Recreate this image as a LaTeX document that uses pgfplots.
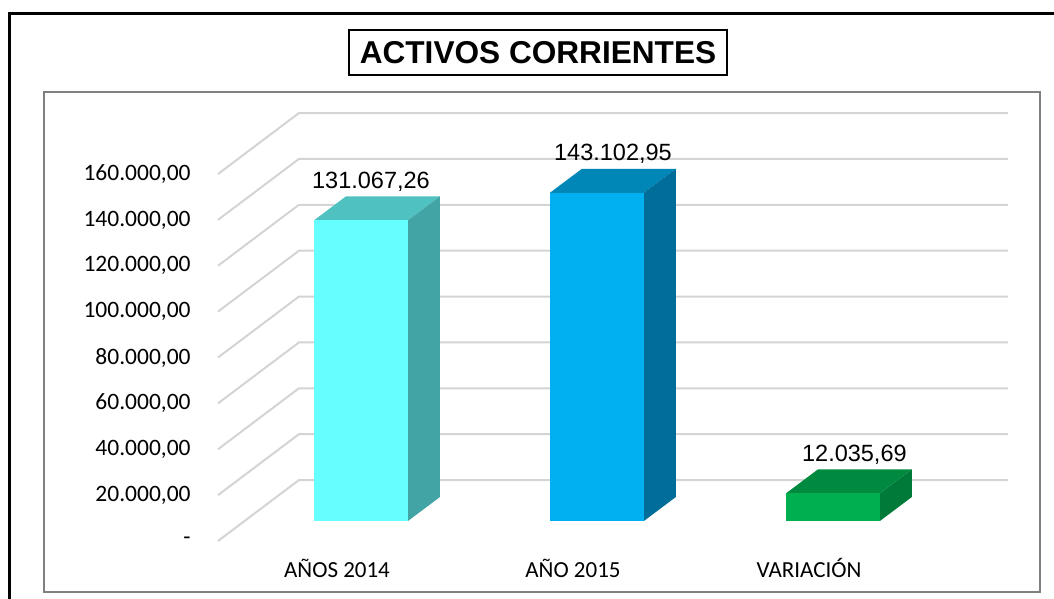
\documentclass[border=0pt]{standalone}
\usepackage{fontspec}
\setmainfont{Carlito}
\newfontfamily\arial{Liberation Sans}
\usepackage{pgfplots}
\pgfplotsset{compat=1.18}
\definecolor{gridc}{HTML}{D4D4D4}
\definecolor{frameg}{HTML}{808080}
\definecolor{fA}{HTML}{66FFFF}
\definecolor{sA}{HTML}{42A4A4}
\definecolor{tA}{HTML}{4FC1C1}
\definecolor{fB}{HTML}{00B0F0}
\definecolor{sB}{HTML}{006E99}
\definecolor{tB}{HTML}{0087B8}
\definecolor{fC}{HTML}{00B050}
\definecolor{sC}{HTML}{007A38}
\definecolor{tC}{HTML}{008A40}
\begin{document}
\begin{tikzpicture}
\useasboundingbox (0,0) rectangle (527pt,-299.5pt);
\clip (0,0) rectangle (527pt,-299.5pt);
% outer frame (cut by picture edge)
\draw[line width=1.5pt,black] (4.5pt,-320pt) -- (4.5pt,-7pt) -- (560pt,-7pt);
% plot area frame
\draw[line width=1.2pt,frameg] (22pt,-46pt) rectangle (520pt,-296pt);
% title
\node[draw, line width=1pt, minimum width=189pt, minimum height=22.5pt, inner sep=0pt,
  font=\arial\bfseries\fontsize{15.8pt}{18pt}\selectfont] at (269pt,-26.25pt) {ACTIVOS CORRIENTES};
\begin{axis}[
  at={(109pt,-270.5pt)}, anchor=south west,
  scale only axis, width=395pt, height=214pt,
  xmin=-0.4958, xmax=2.852, ymin=0, ymax=186594,
  clip=false,
  scaled y ticks=false, scaled x ticks=false,
  axis line style={draw=none}, tick style={draw=none},
  ytick={0,20000,40000,60000,80000,100000,120000,140000,160000},
  yticklabels={{-},{20.000,00},{40.000,00},{60.000,00},{80.000,00},{100.000,00},{120.000,00},{140.000,00},{160.000,00}},
  yticklabel style={anchor=east, inner sep=0pt, xshift=-13.5pt, font=\fontsize{11.75pt}{14pt}\selectfont},
  xtick={0,1,2},
  xticklabels={AÑOS 2014, AÑO 2015, VARIACIÓN},
  xticklabel style={anchor=base, inner sep=0pt, yshift=-18pt, xshift=1pt, font=\fontsize{11.5pt}{14pt}\selectfont},
]
% gridlines (front edge -> back wall -> right)
\addplot[gridc, line width=1pt, mark=none] coordinates {(-0.4958,0) (-0.1526,26594) (2.852,26594)};
\addplot[gridc, line width=1pt, mark=none] coordinates {(-0.4958,20000) (-0.1526,46594) (2.852,46594)};
\addplot[gridc, line width=1pt, mark=none] coordinates {(-0.4958,40000) (-0.1526,66594) (2.852,66594)};
\addplot[gridc, line width=1pt, mark=none] coordinates {(-0.4958,60000) (-0.1526,86594) (2.852,86594)};
\addplot[gridc, line width=1pt, mark=none] coordinates {(-0.4958,80000) (-0.1526,106594) (2.852,106594)};
\addplot[gridc, line width=1pt, mark=none] coordinates {(-0.4958,100000) (-0.1526,126594) (2.852,126594)};
\addplot[gridc, line width=1pt, mark=none] coordinates {(-0.4958,120000) (-0.1526,146594) (2.852,146594)};
\addplot[gridc, line width=1pt, mark=none] coordinates {(-0.4958,140000) (-0.1526,166594) (2.852,166594)};
\addplot[gridc, line width=1pt, mark=none] coordinates {(-0.4958,160000) (-0.1526,186594) (2.852,186594)};
% bar 1: 131067.26
\addplot[fill=tA, draw=none, mark=none] coordinates {(-0.089,139789.26) (0.309,139789.26) (0.4446,150252.26) (0.0466,150252.26)} -- cycle;
\addplot[fill=sA, draw=none, mark=none] coordinates {(0.309,8722) (0.4446,19185) (0.4446,150252.26) (0.309,139789.26)} -- cycle;
\addplot[fill=fA, draw=none, mark=none] coordinates {(-0.089,8722) (0.309,8722) (0.309,139789.26) (-0.089,139789.26)} -- cycle;
% bar 2: 143102.95
\addplot[fill=tB, draw=none, mark=none] coordinates {(0.911,151824.95) (1.309,151824.95) (1.4446,162287.95) (1.0466,162287.95)} -- cycle;
\addplot[fill=sB, draw=none, mark=none] coordinates {(1.309,8722) (1.4446,19185) (1.4446,162287.95) (1.309,151824.95)} -- cycle;
\addplot[fill=fB, draw=none, mark=none] coordinates {(0.911,8722) (1.309,8722) (1.309,151824.95) (0.911,151824.95)} -- cycle;
% bar 3: 12035.69
\addplot[fill=tC, draw=none, mark=none] coordinates {(1.911,20757.69) (2.309,20757.69) (2.4446,31220.69) (2.0466,31220.69)} -- cycle;
\addplot[fill=sC, draw=none, mark=none] coordinates {(2.309,8722) (2.4446,19185) (2.4446,31220.69) (2.309,20757.69)} -- cycle;
\addplot[fill=fC, draw=none, mark=none] coordinates {(1.911,8722) (2.309,8722) (2.309,20757.69) (1.911,20757.69)} -- cycle;
% data labels
\addplot[draw=none, mark=none, point meta=explicit symbolic, nodes near coords,
  nodes near coords style={anchor=base, inner sep=0pt, yshift=4pt, text=black,
    font=\arial\fontsize{11.75pt}{14pt}\selectfont}]
  coordinates {(0.1525,150252.26) [131.067,26] (1.178,162287.95) [143.102,95] (2.201,31220.69) [12.035,69]};
\end{axis}
\end{tikzpicture}
\end{document}
